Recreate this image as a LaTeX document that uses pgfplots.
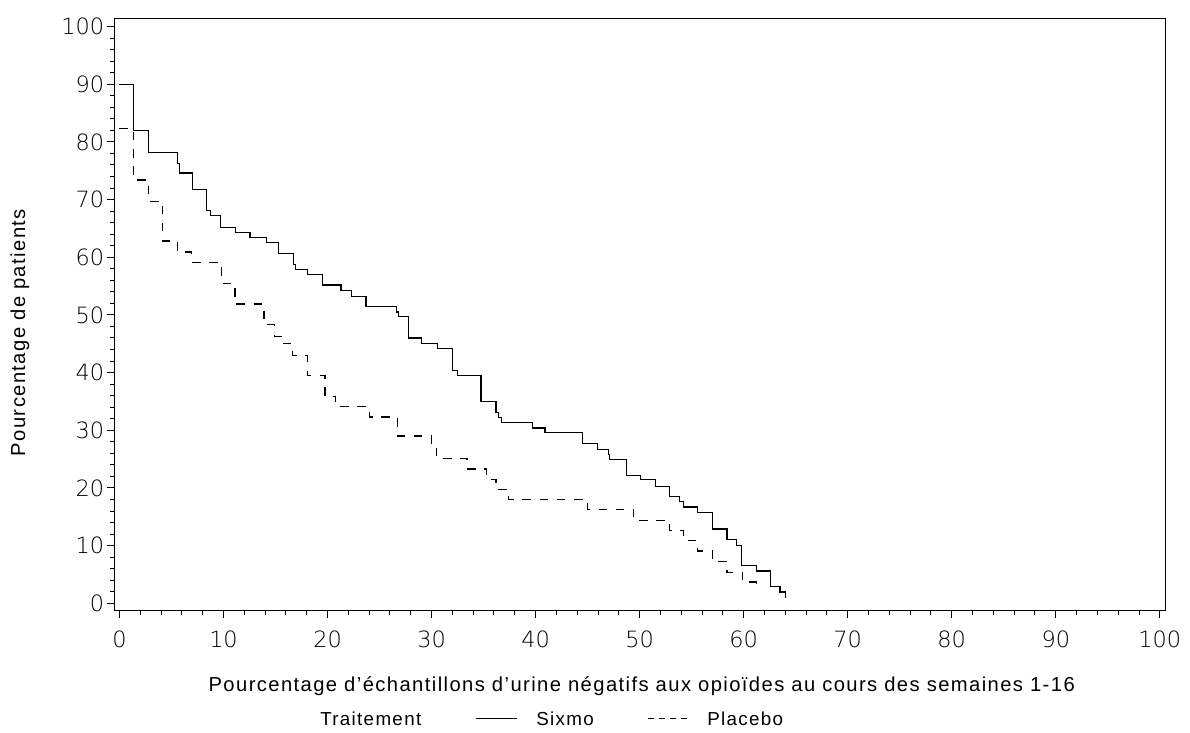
\documentclass[border=0pt]{standalone}
\usepackage{fontspec}
\setmainfont{Liberation Sans}[LetterSpace=7]
\newfontfamily\tickfont{DejaVu Sans ExtraLight}
\usepackage{pgfplots}
\pgfplotsset{compat=1.18}

% Sixmo: x = % negative urine samples, y = % of patients (step curve)
\pgfplotstableread{
x y
0 90
1.35 81.9
2.79 78.1
5.6 76.2
5.75 74.6
7.0 71.7
8.33 68.1
8.78 67.2
9.74 65.2
11.14 64.3
12.55 63.4
14.16 62.6
15.28 60.7
16.7 58.8
16.94 57.9
18.1 57.0
19.5 55.2
21.3 54.3
22.3 53.2
23.7 51.5
26.6 50.5
26.8 49.7
27.8 46.0
29.05 45.1
30.6 44.2
32.0 40.4
32.5 39.5
34.75 35.0
36.2 33.1
36.4 32.2
36.7 31.3
39.7 30.4
40.9 29.6
44.5 27.7
45.95 26.7
46.97 25.8
47.1 24.9
48.7 22.2
50.1 21.4
51.5 20.2
52.9 18.5
53.8 17.6
54.2 16.7
55.6 15.8
57.0 12.9
58.4 11.1
59.3 10.0
59.8 6.5
61.2 5.6
62.6 2.9
63.5 1.95
64.0 1.0
}\sixmo

% Placebo
\pgfplotstableread{
x y
0 82.3
1.35 73.4
2.79 69.7
4.17 62.8
5.6 60.9
6.95 59.1
9.8 55.5
11.1 51.9
13.9 48.3
14.9 46.3
15.6 45.0
16.65 43.0
18.06 39.5
19.76 35.9
20.8 34.1
24.0 32.3
26.7 29.0
30.0 27.2
30.5 25.1
33.4 23.3
35.3 21.5
36.2 19.75
37.4 18.0
45.0 16.3
49.4 14.4
52.9 12.6
54.2 10.9
55.6 9.06
57.0 7.2
58.4 5.4
59.9 3.7
61.2 2.7
}\placebo

\begin{document}
\begin{tikzpicture}
\begin{axis}[
    scale only axis,
    width=525.5pt,
    height=296pt,
    xmin=-0.5, xmax=100.5,
    ymin=-1.3, ymax=101.3,
    clip=false,
    xtick={0,10,...,100},
    ytick={0,10,...,100},
    minor tick num=4,
    tick pos=left,
    tick align=outside,
    major tick length=3.5pt,
    minor tick length=2pt,
    axis line style={line width=0.5pt},
    every tick/.style={black, line width=0.5pt},
    /pgf/number format/assume math mode=true,
    tick label style={font=\tickfont\fontsize{11.2}{13}\selectfont},
    xticklabel style={yshift=-3pt},
    yticklabel style={xshift=2pt},
    label style={font=\fontsize{10.1}{12}\selectfont},
    xlabel={Pourcentage d’échantillons d’urine négatifs aux opioïdes au cours des semaines 1-16},
    ylabel={Pourcentage de patients},
    xlabel style={at={(axis description cs:0.502,-0.127)}, anchor=center},
    ylabel style={at={(axis description cs:-0.0897,0.47)}, anchor=center},
]
\addplot[const plot, black, line width=0.6pt] table[x=x, y=y] {\sixmo};
\addplot[const plot, black, line width=0.6pt, dash pattern=on 4.3pt off 4.3pt] table[x=x, y=y] {\placebo};
% legend
\node[font=\fontsize{9.4}{11}\selectfont, anchor=west, inner sep=0pt] at (axis description cs:0.1957,-0.1824) {Traitement};
\draw[black, line width=0.6pt] (axis description cs:0.3441,-0.1824) -- (axis description cs:0.3832,-0.1824);
\node[font=\fontsize{9.4}{11}\selectfont, anchor=west, inner sep=0pt] at (axis description cs:0.4013,-0.1824) {Sixmo};
\draw[black, line width=0.6pt, dash pattern=on 3pt off 2.5pt] (axis description cs:0.5078,-0.1824) -- (axis description cs:0.5459,-0.1824);
\node[font=\fontsize{9.4}{11}\selectfont, anchor=west, inner sep=0pt] at (axis description cs:0.5640,-0.1824) {Placebo};
\end{axis}
\pgfresetboundingbox
\path ([xshift=-57.15pt,yshift=-61pt]current axis.south west) rectangle ([xshift=12.5pt,yshift=9.5pt]current axis.north east);
\end{tikzpicture}
\end{document}
